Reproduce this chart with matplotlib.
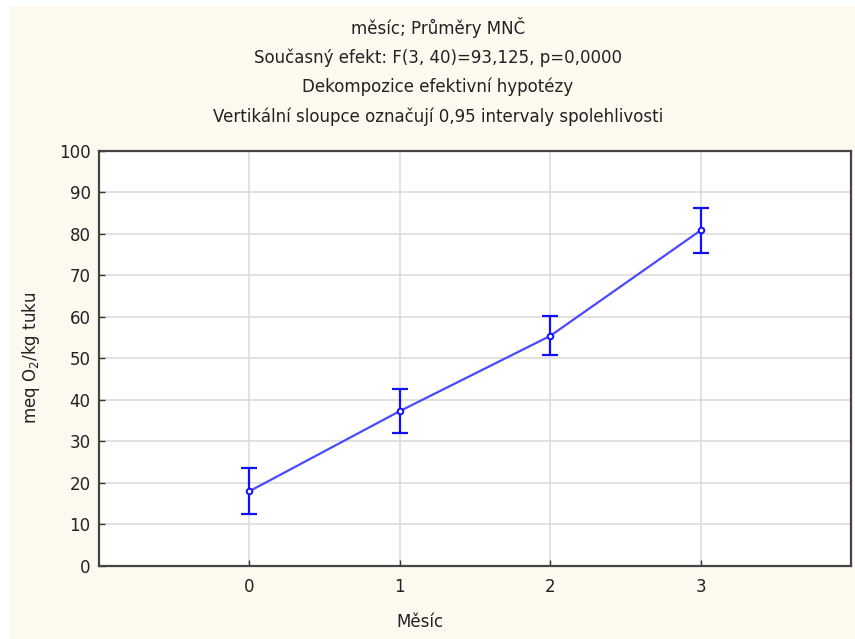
import matplotlib
matplotlib.use("Agg")
import matplotlib.pyplot as plt
from matplotlib.patches import Rectangle

months = [0, 1, 2, 3]
means = [18.0, 37.3, 55.4, 80.8]
ci_half = [5.5, 5.3, 4.7, 5.5]
y_ticks = [0, 10, 20, 30, 40, 50, 60, 70, 80, 90, 100]

title_lines = [
    "měsíc; Průměry MNČ",
    "Současný efekt: F(3, 40)=93,125, p=0,0000",
    "Dekompozice efektivní hypotézy",
    "Vertikální sloupce označují 0,95 intervaly spolehlivosti",
]

plt.rcParams['font.family'] = ['DejaVu Sans']
FS = 12

W, H = 855, 639
fig = plt.figure(figsize=(W / 100, H / 100), dpi=100, facecolor="white")
fig.patches.append(Rectangle((9 / W, 0), 1 - 9 / W, 1 - 6 / H, transform=fig.transFigure,
                             facecolor="#fef9ee", edgecolor="none", zorder=-5))

ax = fig.add_axes([99 / W, (H - 566) / H, (851 - 99) / W, (566 - 150.7) / H])
ax.set_zorder(2)
ax.set_facecolor("white")

ax.plot(months, means, color="#4a4aff", lw=1.6, zorder=3)
ax.errorbar(months, means, yerr=ci_half, fmt="none", ecolor="#1010ff",
            elinewidth=1.6, capsize=6, capthick=1.6, zorder=4)
ax.plot(months, means, "o", ms=4, mfc="white", mec="#1010ff", mew=1.4, zorder=5)

ax.set_xlim(-1, 4)
ax.set_ylim(0, 100)
ax.set_xticks(months)
ax.set_yticks(y_ticks)
ax.grid(True, color="#dcdcdc", lw=1.2)
ax.set_axisbelow(True)
ax.tick_params(direction="in", length=4, width=1, colors="#333333",
               labelsize=FS, labelcolor="#222222")
ax.tick_params(axis="y", pad=6)
ax.tick_params(axis="x", pad=9)
for s in ax.spines.values():
    s.set_color("#444444")
    s.set_linewidth(1.6)

ax.set_xlabel("Měsíc", fontsize=FS, color="#222222")
ax.xaxis.set_label_coords((420 - 99) / (851 - 99), -0.112)
ax.set_ylabel("meq O$_2$/kg tuku", fontsize=FS, color="#222222")
ax.yaxis.set_label_coords(-(99 - 42) / (851 - 99), 0.5)

for i, line in enumerate(title_lines):
    fig.text(438 / W, 1 - (28 + 29.5 * i) / H, line, ha="center", va="center",
             fontsize=FS, color="#222222")

fig.savefig("out.png", dpi=100, facecolor=fig.get_facecolor())
